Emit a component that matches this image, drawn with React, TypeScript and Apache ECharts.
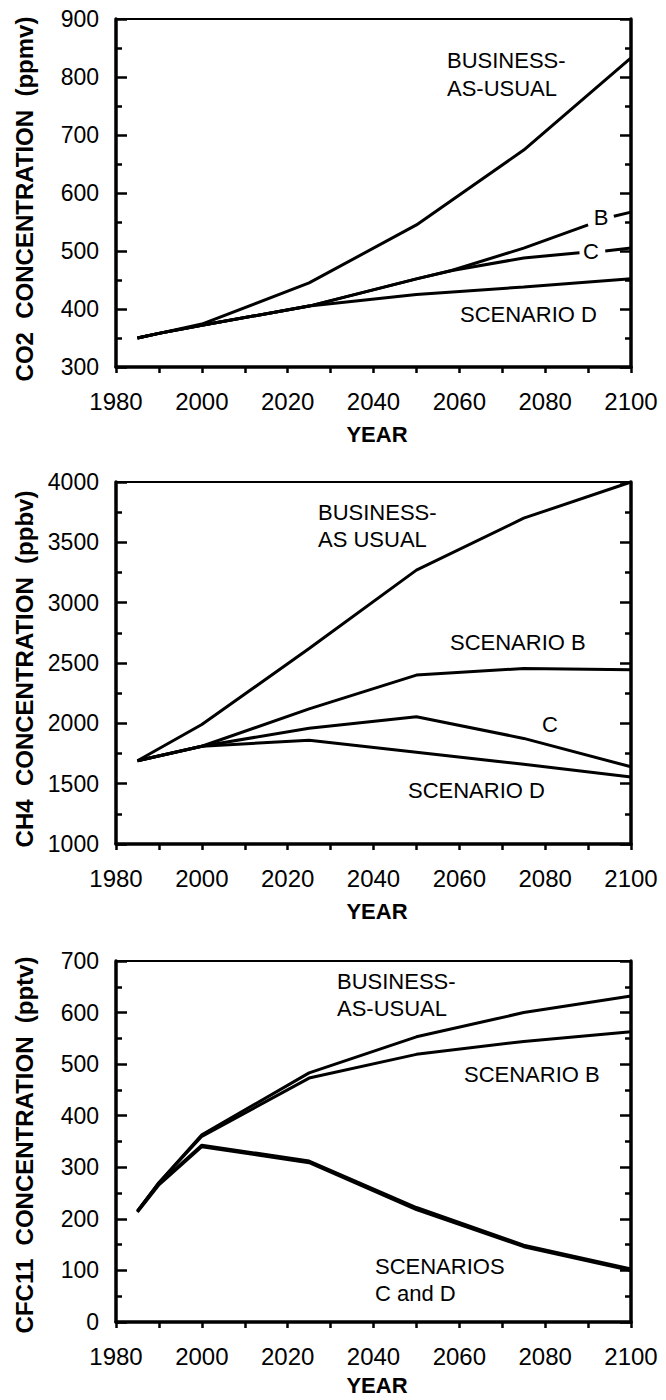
import React, { useEffect, useRef } from "react";
import * as echarts from "echarts";

// ---------- DATA ----------
// Panel 1: CO2 (ppmv)
const co2Years = [1985, 1990, 2000, 2025, 2050, 2075, 2100];
const co2Bau = [350, 358, 374, 445, 545, 674, 833];
const co2D = [350, 358, 372, 405, 425, 438, 452];
const co2BYears = [1985, 1990, 2000, 2025, 2050, 2058, 2075, 2090, 2093, 2096, 2100];
const co2B = [350, 358, 372, 405, 452, 466, 505, 545, null, 560, 567];
const co2CYears = [1985, 1990, 2000, 2025, 2050, 2058, 2075, 2088, 2091, 2094, 2100];
const co2C = [350, 358, 372, 405, 452, 466, 488, 497, null, 500, 505];

// Panel 2: CH4 (ppbv)
const ch4Years = [1985, 2000, 2025, 2050, 2075, 2100];
const ch4Bau = [1690, 1990, 2620, 3270, 3700, 4000];
const ch4B = [1690, 1810, 2120, 2400, 2455, 2445];
const ch4C = [1690, 1810, 1960, 2055, 1875, 1640];
const ch4D = [1690, 1810, 1860, 1760, 1660, 1555];

// Panel 3: CFC11 (pptv)
const cfcYears = [1985, 1990, 2000, 2025, 2050, 2075, 2100];
const cfcBau = [215, 270, 363, 483, 553, 600, 632];
const cfcB = [215, 270, 360, 473, 519, 544, 563];
const cfcC = [215, 268, 343, 312, 222, 149, 103];
const cfcD = [213, 266, 340, 309, 218, 146, 100];

// Axis ranges
const yearMin = 1980;
const yearMax = 2100;
const yearStep = 20;
const co2Range = [300, 900, 100];
const ch4Range = [1000, 4000, 500];
const cfcRange = [0, 700, 100];

const FONT = "'Liberation Sans', Arial, Helvetica, sans-serif";

function pairs(xs: number[], ys: (number | null)[]) {
  return xs.map((x, i) => [x, ys[i]]);
}

function lineSeries(idx: number, data: any[]) {
  return {
    type: "line",
    xAxisIndex: idx,
    yAxisIndex: idx * 2,
    data,
    showSymbol: false,
    symbol: "none",
    connectNulls: false,
    clip: false,
    lineStyle: { color: "#000", width: 3 },
    z: 3,
  };
}

const plain = (v: number) => String(v);

function xAxis(idx: number) {
  return {
    type: "value",
    gridIndex: idx,
    min: yearMin,
    max: yearMax,
    interval: yearStep,
    axisLine: { show: true, onZero: false, lineStyle: { color: "#000", width: 3.5 } },
    axisTick: { show: true, inside: false, length: 6, lineStyle: { color: "#000", width: 2.5 } },
    minorTick: { show: true, splitNumber: 2, length: 6, lineStyle: { color: "#000", width: 2.5 } },
    axisLabel: { fontSize: 24, color: "#000", margin: 22, fontFamily: FONT, formatter: plain },
    splitLine: { show: false },
    minorSplitLine: { show: false },
  };
}

function yAxes(idx: number, range: number[]) {
  const base = {
    type: "value",
    gridIndex: idx,
    min: range[0],
    max: range[1],
    interval: range[2],
    axisLine: { show: true, onZero: false, lineStyle: { color: "#000", width: 3.5 } },
    axisTick: { show: true, inside: true, length: 11, lineStyle: { color: "#000", width: 2.5 } },
    minorTick: { show: true, splitNumber: 2, length: 6, lineStyle: { color: "#000", width: 2.5 } },
    splitLine: { show: false },
    minorSplitLine: { show: false },
  };
  return [
    {
      ...base,
      position: "left",
      axisLabel: { fontSize: 23, color: "#000", margin: 17, fontFamily: FONT, formatter: plain },
    },
    {
      ...base,
      position: "right",
      axisLabel: { show: false },
    },
  ];
}

function txt(text: string, x: number, y: number, opts: any = {}) {
  const align = opts.align || "left";
  return {
    type: "text",
    x,
    y,
    rotation: opts.rotation || 0,
    z: 10,
    style: {
      text,
      fill: "#000",
      fontSize: opts.fontSize || 22,
      fontWeight: opts.fontWeight || "normal",
      fontFamily: FONT,
      align,
      textAlign: align,
      verticalAlign: "middle",
      textVerticalAlign: "middle",
    },
  };
}

export default function App() {
  const ref = useRef<HTMLDivElement>(null);

  useEffect(() => {
    document.body.style.margin = "0";
    if (!ref.current) return;
    const chart = echarts.init(ref.current, null, { renderer: "svg" });

    const grids = [
      { left: 116, right: 35, top: 19, height: 348 },
      { left: 116, right: 35, top: 482, height: 362 },
      { left: 116, right: 35, top: 961, height: 361 },
    ].map((g) => ({ ...g, show: true, borderColor: "#000", borderWidth: 2, containLabel: false }));

    const ranges = [co2Range, ch4Range, cfcRange];

    const option: any = {
      animation: false,
      backgroundColor: "#fff",
      grid: grids,
      xAxis: [xAxis(0), xAxis(1), xAxis(2)],
      yAxis: ranges.flatMap((r, i) => yAxes(i, r)),
      series: [
        lineSeries(0, pairs(co2Years, co2Bau)),
        lineSeries(0, pairs(co2BYears, co2B)),
        lineSeries(0, pairs(co2CYears, co2C)),
        lineSeries(0, pairs(co2Years, co2D)),
        lineSeries(1, pairs(ch4Years, ch4Bau)),
        lineSeries(1, pairs(ch4Years, ch4B)),
        lineSeries(1, pairs(ch4Years, ch4C)),
        lineSeries(1, pairs(ch4Years, ch4D)),
        lineSeries(2, pairs(cfcYears, cfcBau)),
        lineSeries(2, pairs(cfcYears, cfcB)),
        lineSeries(2, pairs(cfcYears, cfcC)),
        lineSeries(2, pairs(cfcYears, cfcD)),
      ],
      graphic: [
        // axis titles
        txt("CO2  CONCENTRATION  (ppmv)", 24, 199, { rotation: Math.PI / 2, align: "center", fontSize: 24, fontWeight: "bold" }),
        txt("CH4  CONCENTRATION  (ppbv)", 24, 669, { rotation: Math.PI / 2, align: "center", fontSize: 24, fontWeight: "bold" }),
        txt("CFC11  CONCENTRATION  (pptv)", 24, 1145, { rotation: Math.PI / 2, align: "center", fontSize: 24, fontWeight: "bold" }),
        txt("YEAR", 377, 434, { align: "center", fontSize: 22, fontWeight: "bold" }),
        txt("YEAR", 377, 911, { align: "center", fontSize: 22, fontWeight: "bold" }),
        txt("YEAR", 377, 1385, { align: "center", fontSize: 22, fontWeight: "bold" }),
        // panel 1 annotations
        txt("BUSINESS-", 447, 60),
        txt("AS-USUAL", 447, 88),
        txt("B", 601, 217, { align: "center" }),
        txt("C", 591, 251, { align: "center" }),
        txt("SCENARIO D", 460, 314),
        // panel 2 annotations
        txt("BUSINESS-", 318, 512),
        txt("AS USUAL", 318, 539),
        txt("SCENARIO B", 450, 642),
        txt("C", 550, 724, { align: "center" }),
        txt("SCENARIO D", 408, 790),
        // panel 3 annotations
        txt("BUSINESS-", 337, 981),
        txt("AS-USUAL", 337, 1008),
        txt("SCENARIO B", 464, 1074),
        txt("SCENARIOS", 375, 1266),
        txt("C and D", 375, 1293),
      ],
    };

    chart.setOption(option);
    return () => {
      chart.dispose();
    };
  }, []);

  return <div ref={ref} style={{ width: 666, height: 1400 }} />;
}
